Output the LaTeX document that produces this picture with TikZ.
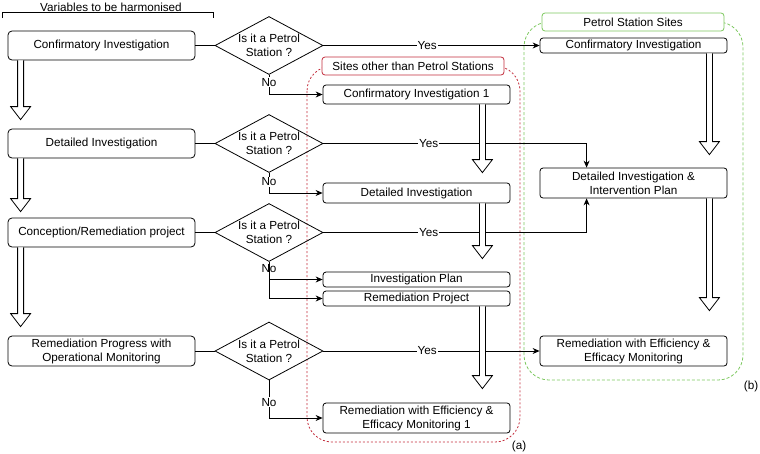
\documentclass[tikz,border=0pt]{standalone}
\usepackage{fontspec}
\setmainfont{Liberation Sans}
\usetikzlibrary{shapes.geometric,arrows.meta,calc}
\definecolor{siteRed}{RGB}{195,45,60}
\definecolor{siteGreen}{RGB}{125,200,95}

% hollow block arrow from #1 down to tip #2
\newcommand\blockarrow[2]{%
    \draw[fill=white] let \p1=(#1), \p2=(#2) in
        (\x1-3pt,\y1) -- (\x1-3pt,\y2+13pt) -- (\x1-10pt,\y2+13pt) -- (\x1,\y2)
        -- (\x1+10pt,\y2+13pt) -- (\x1+3pt,\y2+13pt) -- (\x1+3pt,\y1);}

\begin{document}
\begin{tikzpicture}[x=1pt,y=-1pt,
        font=\fontsize{11.7}{14}\selectfont, line width=0.8pt,
        vbox/.style={draw, rounded corners=4pt, minimum width=187pt, align=center, inner sep=0pt},
        qdiamond/.style={draw, diamond, minimum width=108pt, minimum height=58pt, inner sep=0pt},
        flowline/.style={-{Stealth[length=7pt,width=6pt]}},
        lbl/.style={fill=white, inner sep=1pt}]
            \useasboundingbox (0,0) rectangle (760,453);

            % grouping frames
            \draw[siteRed, dash pattern=on 2pt off 2pt, rounded corners=25pt] (307,66) rectangle (520,442);
            \draw[siteGreen, dash pattern=on 3pt off 2pt, rounded corners=25pt] (524,22) rectangle (743,380);
            \node[draw=siteRed, fill=white, rounded corners=3pt, minimum width=182pt, minimum height=18pt, inner sep=0pt] (tA) at (413,66) {Sites other than Petrol Stations};
            \node[draw=siteGreen, fill=white, rounded corners=3pt, minimum width=182pt, minimum height=18pt, inner sep=0pt] (tB) at (633,22) {Petrol Station Sites};
            \node (la) at (519,446) {(a)};
            \node (lb) at (751,386) {(b)};

            \draw (2,18) -- (2,12) -- (213,12) -- (213,18);
            \node[lbl] (vh) at (111,7) {Variables to be harmonised};

            % harmonised steps
            \node[vbox, minimum height=29pt] (ci) at (101.5,45.5) {Confirmatory Investigation};
            \node[vbox, minimum height=29pt] (di) at (101.5,143.5) {Detailed Investigation};
            \node[vbox, minimum height=29pt] (crp) at (101.5,232.5) {Conception/Remediation project};
            \node[vbox, minimum height=30pt] (rpm) at (101.5,351) {Remediation Progress with\\Operational Monitoring};

            \foreach \n/\y in {1/45.5,2/143.5,3/232.5,4/351} {
                    \node[qdiamond] (q\n) at (269,\y) {};
                    \node[align=center] (q\n t) at (269,\y) {Is it a Petrol\\Station ?};
                }

            % other sites
            \node[vbox, rounded corners=3pt, minimum height=19pt] (a1) at (416.5,94.5) {Confirmatory Investigation 1};
            \node[vbox, rounded corners=3pt, minimum height=20pt] (a2) at (416.5,193) {Detailed Investigation};
            \node[vbox, rounded corners=3pt, minimum height=15pt] (a3) at (416.5,279.5) {Investigation Plan};
            \node[vbox, rounded corners=3pt, minimum height=15pt] (a4) at (416.5,298.5) {Remediation Project};
            \node[vbox, rounded corners=3pt, minimum height=30pt] (a5) at (416.5,418) {Remediation with Efficiency \&\\Efficacy Monitoring 1};

            % petrol stations
            \node[vbox, rounded corners=3pt, minimum height=15pt] (b1) at (633.5,45.5) {Confirmatory Investigation};
            \node[vbox, rounded corners=3pt, minimum height=30pt] (b2) at (633.5,183) {Detailed Investigation \&\\Intervention Plan};
            \node[vbox, rounded corners=3pt, minimum height=30pt] (b3) at (633.5,351) {Remediation with Efficiency \&\\Efficacy Monitoring};

            \draw (ci) -- (q1);
            \draw (di) -- (q2);
            \draw (crp) -- (q3);
            \draw (rpm) -- (q4);

            \draw[flowline] (q1.south) |- (a1.west) node[lbl, pos=0.19] {No};
            \draw[flowline] (q2.south) |- (a2.west) node[lbl, pos=0.22] {No};
            \draw[flowline] (q3.south) |- (a3.west) node[lbl, pos=0.18] {No};
            \draw[flowline] (q3.south) |- (a4.west);
            \draw[flowline] (q4.south) |- (a5.west) node[lbl, pos=0.29] {No};

            \draw[flowline] (q1.east) -- (b1.west) node[lbl, pos=0.48] {Yes};
            \draw[flowline] (q2.east) -| ([xshift=47pt]b2.north west) node[lbl, pos=0.2] {Yes};
            \draw[flowline] (q3.east) -| ([xshift=47pt]b2.south west) node[lbl, pos=0.2] {Yes};
            \draw[flowline] (q4.east) -- (b3.west) node[lbl, pos=0.48] {Yes};

            \blockarrow{[xshift=13pt]ci.south west}{[xshift=13pt,yshift=9pt]di.north west}
            \blockarrow{[xshift=13pt]di.south west}{[xshift=13pt,yshift=6pt]crp.north west}
            \blockarrow{[xshift=13pt]crp.south west}{[xshift=13pt,yshift=9pt]rpm.north west}

            \blockarrow{[xshift=-28pt]a1.south east}{[xshift=-28pt,yshift=10pt]a2.north east}
            \blockarrow{[xshift=-28pt]a2.south east}{[xshift=-28pt,yshift=13pt]a3.north east}
            \blockarrow{[xshift=-28pt]a4.south east}{[xshift=-28pt,yshift=14pt]a5.north east}

            \blockarrow{[xshift=-18pt]b1.south east}{[xshift=-18pt,yshift=13pt]b2.north east}
            \blockarrow{[xshift=-18pt]b2.south east}{[xshift=-18pt,yshift=25pt]b3.north east}

        \end{tikzpicture}
\end{document}
